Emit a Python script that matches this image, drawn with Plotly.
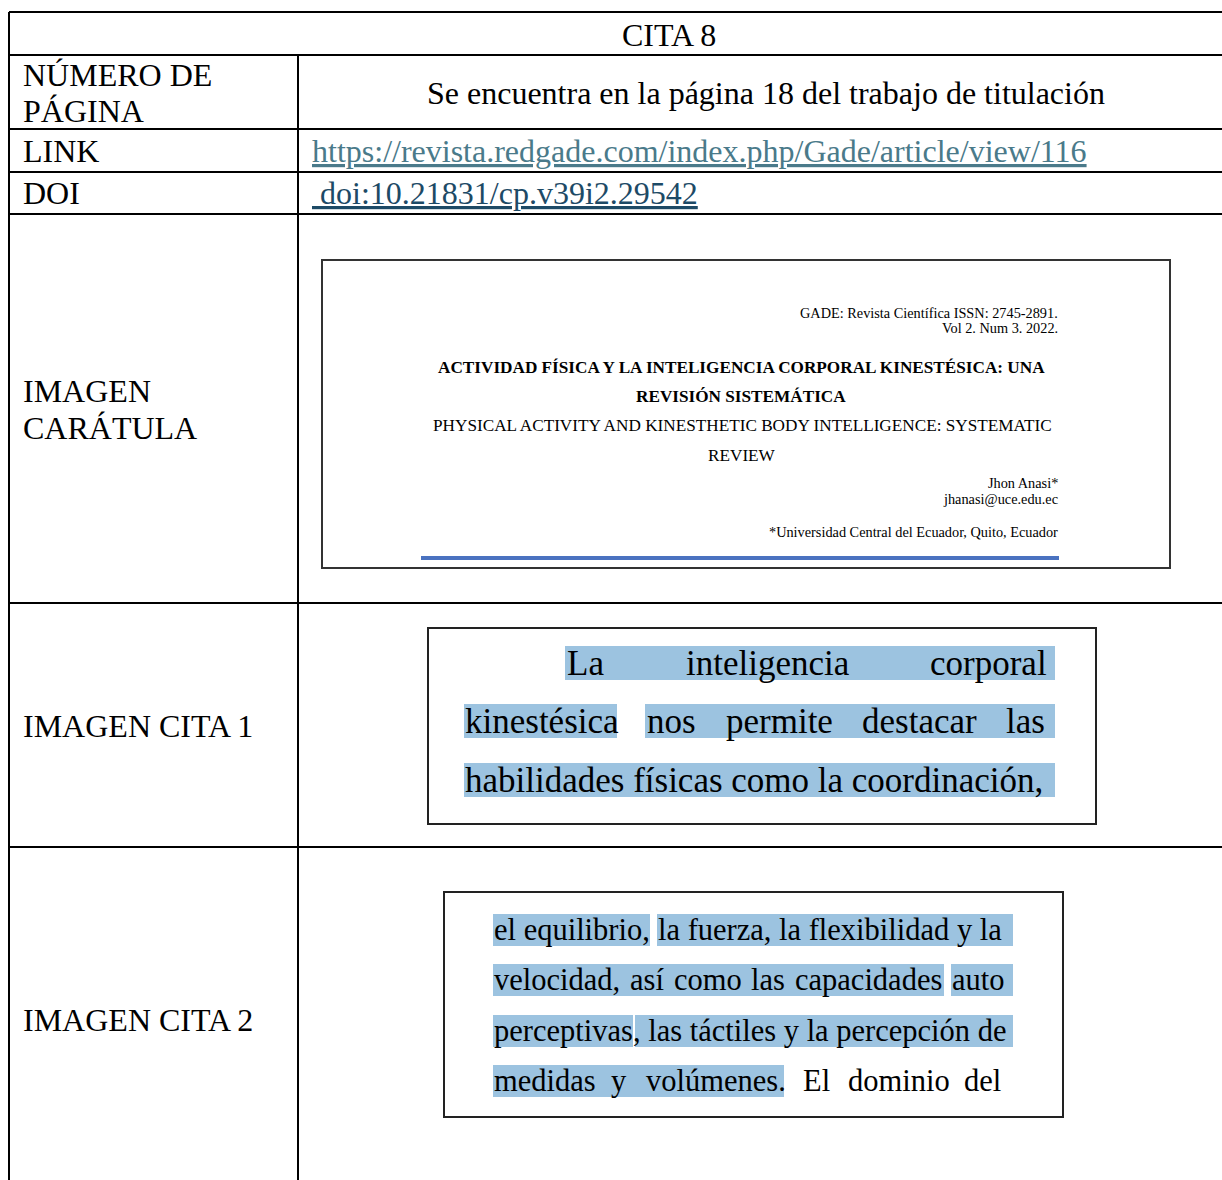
import plotly.graph_objects as go

# ---------------- data (text content) ----------------
header_title = "CITA 8"
row_labels = [["NÚMERO DE", "PÁGINA"], ["LINK"], ["DOI"], ["IMAGEN", "CARÁTULA"], ["IMAGEN CITA 1"], ["IMAGEN CITA 2"]]
page_text = "Se encuentra en la página 18 del trabajo de titulación"
link_text = "https://revista.redgade.com/index.php/Gade/article/view/116"
doi_text = " doi:10.21831/cp.v39i2.29542"

cover_right = ["GADE: Revista Científica ISSN: 2745-2891.", "Vol 2. Num 3. 2022."]
cover_title = ["ACTIVIDAD FÍSICA Y LA INTELIGENCIA CORPORAL KINESTÉSICA: UNA", "REVISIÓN SISTEMÁTICA"]
cover_en = ["PHYSICAL ACTIVITY AND KINESTHETIC BODY INTELLIGENCE: SYSTEMATIC", "REVIEW"]
cover_author = ["Jhon Anasi*", "jhanasi@uce.edu.ec"]
cover_affil = "*Universidad Central del Ecuador, Quito, Ecuador"

# quote 1: (word, left x) per line
cita1_words = [
    [("La", 565), ("inteligencia", 684), ("corporal", 928)],
    [("kinestésica", 463), ("nos", 645), ("permite", 724), ("destacar", 860), ("las", 1004)],
    [("habilidades físicas como la coordinación,", 463)],
]
cita1_high = [[(565, 1055)], [(464, 617), (645, 1055)], [(464, 1055)]]

cita2_words = [
    [("el equilibrio,", 492), ("la fuerza, la flexibilidad y la", 656)],
    [("velocidad,", 492), ("así", 628), ("como", 672), ("las", 749), ("capacidades", 793), ("auto", 950)],
    [("perceptivas", 492), (", las táctiles y la percepción de", 631)],
    [("medidas", 492), ("y", 609), ("volúmenes.", 644), ("El", 801), ("dominio", 846), ("del", 962)],
]
cita2_high = [[(493, 650), (657, 1013)], [(493, 944), (951, 1013)], [(493, 633), (635, 1013)], [(493, 784)]]

# ---------------- layout constants ----------------
W, H = 1222, 1180
SERIF = "Liberation Serif"
row_lines = [12, 55, 129, 172, 214, 603, 847]
left_x, col_x, right_x = 9, 298, 1240
label_y = [[75, 111], [151], [193], [391, 428], [726], [1020]]
HL = "#9cc3e0"

fig = go.Figure()
shapes = []
ann = []

def line(x0, y0, x1, y1, color="black", width=2):
    shapes.append(dict(type="line", x0=x0, y0=y0, x1=x1, y1=y1, xref="x", yref="y",
                       line=dict(color=color, width=width)))

def rect(x0, y0, x1, y1, fill=None, lc=None, lw=0, layer="below"):
    shapes.append(dict(type="rect", x0=x0, y0=y0, x1=x1, y1=y1, xref="x", yref="y", layer=layer,
                       fillcolor=fill if fill else "rgba(0,0,0,0)",
                       line=dict(color=lc if lc else "rgba(0,0,0,0)", width=lw)))

def text(s, x, y, size, xanchor="left", color="black", bold=False, family=SERIF):
    if bold:
        s = "<b>" + s + "</b>"
    ann.append(dict(text=s, x=x, y=y, xref="x", yref="y", xanchor=xanchor, yanchor="middle",
                    showarrow=False, font=dict(family=family, size=size, color=color)))

# table grid
for y in row_lines:
    line(left_x, y, right_x, y)
line(left_x, row_lines[0], left_x, H + 5)
line(col_x, row_lines[1], col_x, H + 5)

# header + labels
text(header_title, 669, 35, 32, xanchor="center")
for labs, ys in zip(row_labels, label_y):
    for lab, yy in zip(labs, ys):
        text(lab, 21, yy, 32)

text(page_text, 766, 93, 32, xanchor="center")
text("<u>" + link_text + "</u>", 310, 151, 32, color="#4a7a8a")
text("<u>" + doi_text + "</u>", 310, 193, 32, color="#1d4a66")

# cover image
rect(322, 260, 1170, 568, fill="white", lc="#333333", lw=2)
text(cover_right[0], 1060, 313, 14.3, xanchor="right")
text(cover_right[1], 1060, 328, 14.3, xanchor="right")
text(cover_title[0], 741, 367, 17.2, xanchor="center", bold=True)
text(cover_title[1], 741, 396, 17.2, xanchor="center", bold=True)
text(cover_en[0], 742, 425, 17.2, xanchor="center")
text(cover_en[1], 742, 455, 17.2, xanchor="center")
text(cover_author[0], 1060, 483, 14.3, xanchor="right")
text(cover_author[1], 1060, 499, 14.3, xanchor="right")
text(cover_affil, 1060, 532, 14.3, xanchor="right")
line(421, 558, 1059, 558, color="#4a72c0", width=4)

# quote 1
rect(428, 628, 1096, 824, fill="white", lc="#222222", lw=2)
c1_y = [663, 721, 780]
for ln, hl, yy in zip(cita1_words, cita1_high, c1_y):
    for x0, x1 in hl:
        rect(x0, yy - 17, x1, yy + 17, fill=HL)
    for w, x in ln:
        text(w, x, yy, 35)

# quote 2
rect(444, 892, 1063, 1117, fill="white", lc="#222222", lw=2)
c2_y = [930, 980, 1031, 1081]
for ln, hl, yy in zip(cita2_words, cita2_high, c2_y):
    for x0, x1 in hl:
        rect(x0, yy - 16, x1, yy + 16, fill=HL)
    for w, x in ln:
        text(w, x, yy, 30.5)

fig.update_layout(
    width=W, height=H, margin=dict(l=0, r=0, t=0, b=0),
    paper_bgcolor="white", plot_bgcolor="white", showlegend=False,
    xaxis=dict(range=[0, W], visible=False, fixedrange=True),
    yaxis=dict(range=[H, 0], visible=False, fixedrange=True),
    shapes=shapes, annotations=ann,
)
fig.write_html("out.html", config={"displayModeBar": False},
               post_script="document.body.style.margin='0';document.body.style.overflow='hidden';")
